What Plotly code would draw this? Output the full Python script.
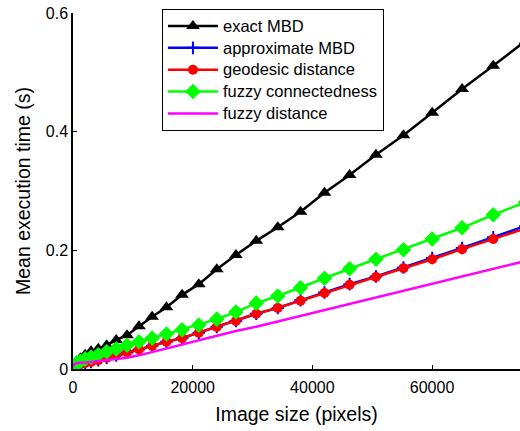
import plotly.graph_objects as go

# Image sizes (pixels)
image_size = [25, 225, 625, 1225, 2025, 3025, 4225, 5625, 7225, 9025, 11025, 13225,
              15625, 18225, 21025, 24025, 27225, 30625, 34225, 38025, 42025, 46225,
              50625, 55225, 60025, 65025, 70225, 75625]

exact_mbd = [0.003, 0.008, 0.013, 0.018, 0.024, 0.030, 0.034, 0.040, 0.049, 0.057, 0.072, 0.088,
             0.104, 0.125, 0.143, 0.168, 0.192, 0.216, 0.239, 0.265, 0.297, 0.327,
             0.361, 0.394, 0.432, 0.472, 0.511, 0.553]

approx_mbd = [0.002, 0.004, 0.006, 0.008, 0.010, 0.012, 0.015, 0.019, 0.023, 0.028, 0.033, 0.039,
              0.046, 0.052, 0.061, 0.071, 0.081, 0.093, 0.103, 0.116, 0.129, 0.143,
              0.156, 0.171, 0.187, 0.204, 0.222, 0.241]

geodesic = [0.002, 0.004, 0.006, 0.008, 0.010, 0.012, 0.015, 0.019, 0.023, 0.028, 0.033, 0.039,
            0.046, 0.052, 0.061, 0.071, 0.081, 0.093, 0.103, 0.115, 0.128, 0.142,
            0.155, 0.170, 0.185, 0.202, 0.219, 0.237]

fuzzy_conn = [0.002, 0.006, 0.010, 0.013, 0.017, 0.020, 0.024, 0.029, 0.034, 0.040, 0.046, 0.052,
              0.059, 0.066, 0.074, 0.084, 0.096, 0.111, 0.123, 0.137, 0.153, 0.169,
              0.185, 0.201, 0.219, 0.238, 0.260, 0.281]

fuzzy_dist = [0.004, 0.008, 0.010, 0.010, 0.011, 0.012, 0.013, 0.015, 0.017, 0.019, 0.023, 0.0285,
              0.0344, 0.041, 0.0487, 0.056, 0.0639, 0.0713, 0.0802, 0.0895, 0.0994, 0.1097,
              0.1205, 0.1318, 0.1436, 0.1559, 0.1687, 0.182]

series_names = ["exact MBD", "approximate MBD", "geodesic distance",
                "fuzzy connectedness", "fuzzy distance"]

x_ticks = [0, 20000, 40000, 60000]
y_ticks = [0, 0.2, 0.4, 0.6]
y_tick_labels = ["0", "0.2", "0.4", "0.6"]

FONT = "Liberation Sans, Arial, sans-serif"


def legend_label(name):
    # larger glyphs while keeping the compact legend row height
    return '<span style="font-size:16.5px">' + name + '</span>'


fig = go.Figure()
fig.add_trace(go.Scatter(x=image_size, y=exact_mbd, name=legend_label(series_names[0]),
                         mode="lines+markers",
                         line=dict(color="#000000", width=2.5),
                         marker=dict(symbol="triangle-up", size=12, color="#000000")))
fig.add_trace(go.Scatter(x=image_size, y=approx_mbd, name=legend_label(series_names[1]),
                         mode="lines+markers",
                         line=dict(color="#0000ff", width=2.5),
                         marker=dict(symbol="cross-thin", size=9, color="#0000ff",
                                     line=dict(color="#0000ff", width=2))))
fig.add_trace(go.Scatter(x=image_size, y=geodesic, name=legend_label(series_names[2]),
                         mode="lines+markers",
                         line=dict(color="#ff0000", width=2.5),
                         marker=dict(symbol="circle", size=10, color="#ff0000")))
fig.add_trace(go.Scatter(x=image_size, y=fuzzy_conn, name=legend_label(series_names[3]),
                         mode="lines+markers",
                         line=dict(color="#00ff00", width=2.5),
                         marker=dict(symbol="diamond", size=12, color="#00ff00")))
fig.add_trace(go.Scatter(x=image_size, y=fuzzy_dist, name=legend_label(series_names[4]),
                         mode="lines",
                         line=dict(color="#ff00ff", width=2.5)))

fig.update_layout(
    width=520, height=431,
    margin=dict(l=73, r=0, t=13, b=62),
    paper_bgcolor="white", plot_bgcolor="white",
    font=dict(family=FONT, color="#000000"),
    showlegend=True,
    legend=dict(x=0.199, y=1.011, xanchor="left", yanchor="top",
                bgcolor="white", bordercolor="#000000", borderwidth=1,
                font=dict(size=14.5, family=FONT), tracegroupgap=0,
                itemwidth=50),
)
fig.update_xaxes(range=[0, 74700], tickvals=x_ticks, ticktext=[str(v) for v in x_ticks],
                 ticks="inside", ticklen=4, tickcolor="#000000", showline=True,
                 linecolor="#000000", linewidth=1.5, showgrid=False, zeroline=False,
                 ticklabelstandoff=3,
                 tickfont=dict(size=16), title=dict(text="Image size (pixels)",
                                                     font=dict(size=19.5), standoff=12))
fig.update_yaxes(range=[0, 0.6], tickvals=y_ticks, ticktext=y_tick_labels,
                 ticks="inside", ticklen=4, tickcolor="#000000", showline=True,
                 linecolor="#000000", linewidth=1.5, showgrid=False, zeroline=False,
                 tickfont=dict(size=16), title=dict(text="Mean execution time (s)",
                                                     font=dict(size=19.5), standoff=10))

fig.write_html("out.html")
